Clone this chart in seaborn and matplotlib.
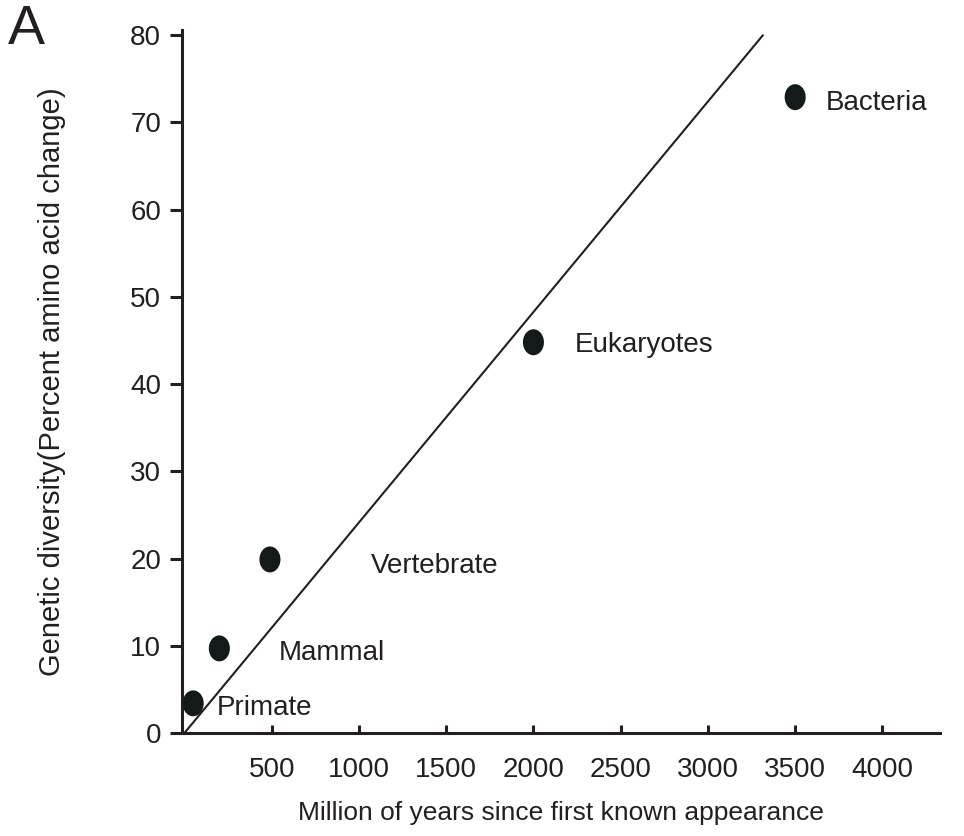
import matplotlib
matplotlib.use("Agg")
import matplotlib.pyplot as plt
import numpy as np
import pandas as pd
import seaborn as sns
from matplotlib.path import Path
from matplotlib.transforms import Affine2D

# values
groups = ["Primate", "Mammal", "Vertebrate", "Eukaryotes", "Bacteria"]
years = [50, 200, 490, 2000, 3500]
diversity = [3.4, 9.7, 19.9, 44.8, 72.9]
fit_years = [0, 3315]
fit_diversity = [0, 80]
xticks = [500, 1000, 1500, 2000, 2500, 3000, 3500, 4000]
yticks = [0, 10, 20, 30, 40, 50, 60, 70, 80]

# label offsets in pixels (dx, dy) from each point
label_offsets = [(24, -2), (59, -2), (101, -4), (41, 0), (31, -3)]

ink = "#231f20"
dot = "#141a1a"

sns.set_theme(style="ticks")
plt.rcParams["font.family"] = ["Liberation Sans", "DejaVu Sans"]

df = pd.DataFrame({"group": groups, "years": years, "diversity": diversity})
fit = pd.DataFrame({"years": fit_years, "diversity": fit_diversity})

fig = plt.figure(figsize=(9.64, 8.36), dpi=100)
ax = fig.add_axes([182 / 964, 103 / 836, 758 / 964, 703 / 836])

# slightly tall ellipse marker
ellipse = Path.unit_circle().transformed(Affine2D().scale(0.81, 1.0))

sns.lineplot(data=fit, x="years", y="diversity", ax=ax, color=ink, lw=1.5)
sns.scatterplot(data=df, x="years", y="diversity", ax=ax, marker=ellipse,
                s=350, color=dot, edgecolor="none", zorder=3)

for (name, x, y), (dx, dy) in zip(zip(groups, years, diversity), label_offsets):
    ax.annotate(name, (x, y), xytext=(dx, dy), textcoords="offset pixels",
                ha="left", va="center_baseline", fontsize=20, color=ink)

ax.set_xlim(-14, 4330)
ax.set_ylim(0, 80.6)
ax.set_xticks(xticks)
ax.set_yticks(yticks)

for side in ["top", "right"]:
    ax.spines[side].set_visible(False)
for side in ["left", "bottom"]:
    ax.spines[side].set_linewidth(2.2)
    ax.spines[side].set_color(ink)

ax.tick_params(axis="x", direction="in", length=6, width=2.2, pad=17,
               labelsize=20, colors=ink)
ax.tick_params(axis="y", direction="out", length=9, width=2.2, pad=6,
               labelsize=20, colors=ink)

ax.set_xlabel("Million of years since first known appearance", fontsize=19, color=ink)
ax.set_ylabel("Genetic diversity(Percent amino acid change)", fontsize=21, color=ink)
ax.xaxis.set_label_coords(0.5, -0.097)
ax.yaxis.set_label_coords(-0.153, 0.5)

fig.text(8 / 964, 1 - 4 / 836, "A", fontsize=40, color=ink, ha="left", va="top")

fig.savefig("out.png", dpi=100, facecolor="white")
